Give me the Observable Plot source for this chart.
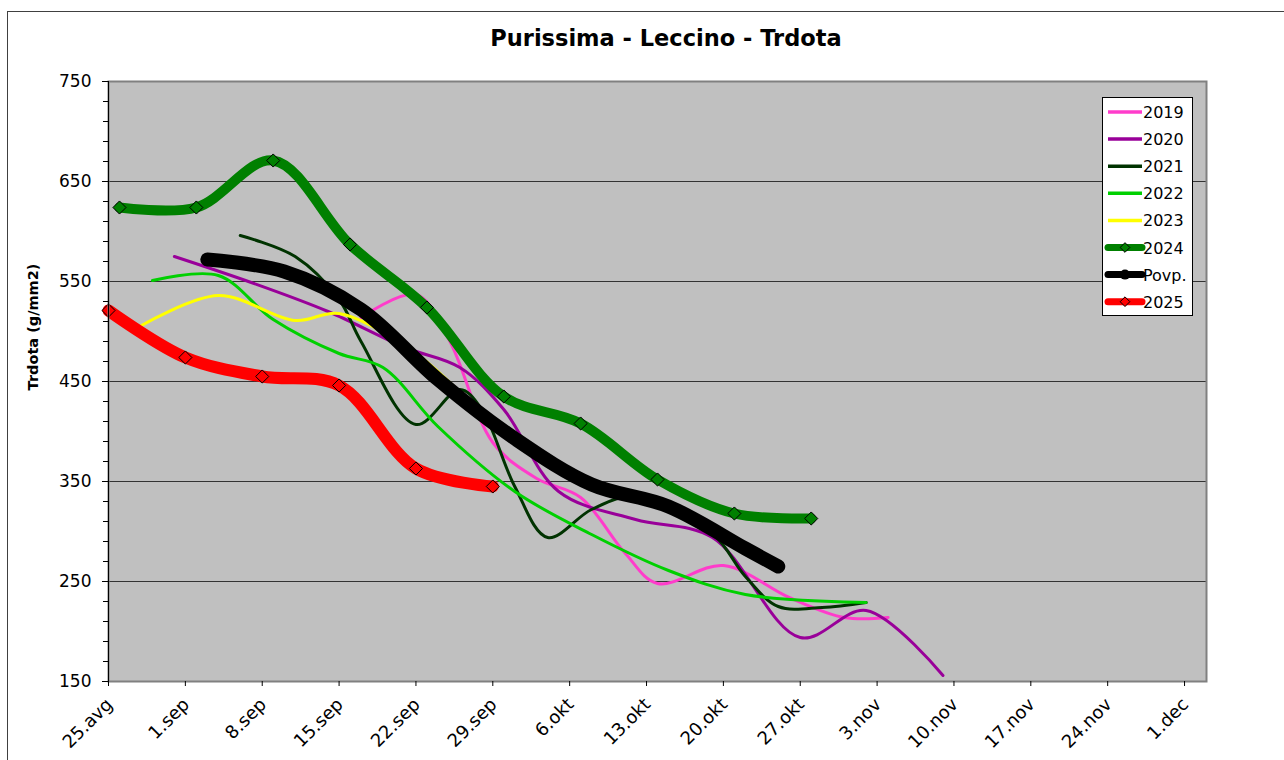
<!DOCTYPE html>
<html>
<head>
<meta charset="utf-8">
<script src="https://cdn.jsdelivr.net/npm/d3@7"></script>
<script src="https://cdn.jsdelivr.net/npm/@observablehq/plot@0.6"></script>
<style>
  body { margin: 0; background: #fff; font-family: "DejaVu Sans", sans-serif; }
  #wrap { position: relative; width: 1284px; height: 760px; overflow: hidden; background: #fff; }
  #border { position: absolute; left: 7px; top: 11px; width: 1400px; height: 900px; border: 1px solid #404040; box-sizing: border-box; }
  #chart { position: absolute; left: 0; top: 0; }
  #overlay { position: absolute; left: 0; top: 0; pointer-events: none; }
  #legend { position: absolute; left: 1102px; top: 97px; width: 91px; height: 219px; background: #fff; border: 1px solid #000; box-sizing: border-box; }
</style>
</head>
<body>
<div id="wrap">
  <div id="border"></div>
  <div id="chart"></div>
  <svg id="overlay" width="1284" height="760"></svg>
  <div id="legend"></div>
</div>
<script>
// ---------- DATA ----------
const titleText = "Purissima - Leccino - Trdota";
const yLabelText = "Trdota (g/mm2)";

const xDomain = ["2025-08-25", "2025-12-03"];
const xTickDates = ["2025-08-25","2025-09-01","2025-09-08","2025-09-15","2025-09-22","2025-09-29","2025-10-06","2025-10-13","2025-10-20","2025-10-27","2025-11-03","2025-11-10","2025-11-17","2025-11-24","2025-12-01"];
const xTickLabels = ["25.avg","1.sep","8.sep","15.sep","22.sep","29.sep","6.okt","13.okt","20.okt","27.okt","3.nov","10.nov","17.nov","24.nov","1.dec"];

const yDomain = [150, 750];
const yMajorTicks = [150, 250, 350, 450, 550, 650, 750];
const yGridTicks = [250, 350, 450, 550, 650];
const yMinorTicks = [150,170,190,210,230,250,270,290,310,330,350,370,390,410,430,450,470,490,510,530,550,570,590,610,630,650,670,690,710,730,750];

const seriesNames = ["2019", "2020", "2021", "2022", "2023", "2024", "Povp.", "2025"];
const seriesColors = ["#ff3ccb", "#990099", "#003300", "#00d000", "#ffff00", "#008000", "#000000", "#ff0000"];
const seriesWidths = [3, 3, 3, 3, 3, 10, 14, 12];
const seriesMarkers = [false, false, false, false, false, true, false, true];

const dates2019 = ["2025-09-17","2025-09-22","2025-09-25","2025-09-29","2025-10-03","2025-10-07","2025-10-11","2025-10-14","2025-10-20","2025-10-26","2025-10-31","2025-11-04"];
const values2019 = [514, 537, 492, 389, 353, 334, 279, 248, 266, 234, 214, 214];

const dates2020 = ["2025-08-31","2025-09-07","2025-09-14","2025-09-21","2025-09-26","2025-09-30","2025-10-05","2025-10-12","2025-10-19","2025-10-27","2025-11-02","2025-11-09"];
const values2020 = [575, 549, 520, 484, 464, 422, 340, 312, 294, 194, 221, 156];

const dates2021 = ["2025-09-06","2025-09-11","2025-09-15","2025-09-17","2025-09-22","2025-09-26","2025-09-28","2025-10-01","2025-10-04","2025-10-08","2025-10-12","2025-10-19","2025-10-22","2025-10-25","2025-10-29","2025-11-02"];
const values2021 = [596, 575, 532, 490, 407, 442, 422, 345, 294, 322, 335, 298, 255, 225, 224, 229];

const dates2022 = ["2025-08-29","2025-09-04","2025-09-09","2025-09-15","2025-09-19","2025-09-24","2025-10-01","2025-10-08","2025-10-15","2025-10-22","2025-11-02"];
const values2022 = [551, 556, 512, 478, 464, 405, 340, 297, 261, 237, 229];

const dates2023 = ["2025-08-28","2025-09-04","2025-09-11","2025-09-15","2025-09-22","2025-09-29","2025-10-02"];
const values2023 = [506, 536, 511, 518, 478, 408, 384];

const dates2024 = ["2025-08-26","2025-09-02","2025-09-09","2025-09-16","2025-09-23","2025-09-30","2025-10-07","2025-10-14","2025-10-21","2025-10-28"];
const values2024 = [624, 624, 671, 587, 524, 435, 408, 352, 318, 313];

const datesAvg = ["2025-09-03","2025-09-10","2025-09-17","2025-09-24","2025-10-01","2025-10-08","2025-10-15","2025-10-22","2025-10-25"];
const valuesAvg = [572, 560, 522, 452, 393, 347, 325, 283, 265];

const dates2025 = ["2025-08-25","2025-09-01","2025-09-08","2025-09-15","2025-09-22","2025-09-29"];
const values2025 = [521, 474, 455, 446, 363, 345];

// ---------- BUILD ----------
const parse = d3.utcParse("%Y-%m-%d");
const seriesDates = [dates2019, dates2020, dates2021, dates2022, dates2023, dates2024, datesAvg, dates2025];
const seriesValues = [values2019, values2020, values2021, values2022, values2023, values2024, valuesAvg, values2025];

const rows = [];
seriesNames.forEach((name, i) => {
  seriesDates[i].forEach((d, j) => rows.push({series: name, date: parse(d), value: seriesValues[i][j]}));
});

const tickRows = xTickDates.map((d, i) => ({date: parse(d), label: xTickLabels[i]}));
const font = "'DejaVu Sans', sans-serif";

const lineMarks = [];
const dotMarks = [];
seriesNames.forEach((name, i) => {
  const data = rows.filter(r => r.series === name);
  lineMarks.push(Plot.line(data, {
    x: "date", y: "value",
    stroke: seriesColors[i], strokeWidth: seriesWidths[i],
    curve: "catmull-rom", strokeLinecap: "round", strokeLinejoin: "round"
  }));
  if (seriesMarkers[i]) {
    dotMarks.push(Plot.dot(data, {
      x: "date", y: "value", symbol: "diamond2", r: 5.9,
      fill: seriesColors[i], stroke: "#000", strokeWidth: 1
    }));
  }
});

const chart = Plot.plot({
  width: 1284, height: 760,
  marginLeft: 108, marginRight: 78, marginTop: 81, marginBottom: 79,
  style: {fontFamily: font, fontSize: "17px", background: "transparent", color: "#000", overflow: "visible"},
  x: {type: "utc", domain: xDomain.map(parse), label: null},
  y: {domain: yDomain, label: null},
  marks: [
    Plot.frame({fill: "#c0c0c0"}),
    Plot.gridY(yGridTicks, {stroke: "#333333", strokeOpacity: 1, strokeWidth: 1}),
    ...lineMarks,
    ...dotMarks,
    Plot.frame({stroke: "#808080", strokeWidth: 2}),
    Plot.ruleX([parse(xDomain[0])], {stroke: "#000", strokeWidth: 1}),
    Plot.axisY(yMinorTicks, {tickSize: 5, tickFormat: () => "", label: null, stroke: "#000"}),
    Plot.axisY(yMajorTicks, {tickSize: 6, tickPadding: 11, fontSize: 17, label: null, stroke: "#000"}),
    Plot.axisX(tickRows.map(t => t.date), {tickSize: 5, tickFormat: () => "", label: null, stroke: "#000"}),
    Plot.text(tickRows, {
      x: "date", y: () => yDomain[0], text: "label",
      rotate: -45, textAnchor: "end", lineAnchor: "middle",
      dx: 1, dy: 20, fontSize: 18, fill: "#000"
    })
  ]
});
document.getElementById("chart").appendChild(chart);

// ---------- TITLE & AXIS LABEL ----------
const ov = d3.select("#overlay");
ov.append("text")
  .attr("x", 666).attr("y", 46)
  .attr("text-anchor", "middle")
  .attr("font-family", font).attr("font-weight", "bold").attr("font-size", 22.5)
  .text(titleText);
ov.append("text")
  .attr("transform", "translate(38,327) rotate(-90)")
  .attr("text-anchor", "middle")
  .attr("font-family", font).attr("font-weight", "bold").attr("font-size", 14.5)
  .text(yLabelText);

// ---------- LEGEND ----------
const lg = d3.select("#legend").append("svg").attr("width", 89).attr("height", 217);
seriesNames.forEach((name, i) => {
  const cy = 14 + i * 27.1;
  const w = seriesWidths[i] > 3 ? 7 : 3.5;
  lg.append("line").attr("x1", 5).attr("x2", 39).attr("y1", cy).attr("y2", cy)
    .attr("stroke", seriesColors[i]).attr("stroke-width", w).attr("stroke-linecap", seriesWidths[i] > 3 ? "round" : "butt");
  if (seriesMarkers[i]) {
    lg.append("path").attr("d", d3.symbol(d3.symbolDiamond2, 60)())
      .attr("transform", `translate(22,${cy})`)
      .attr("fill", seriesColors[i]).attr("stroke", "#000").attr("stroke-width", 1);
  }
  if (name === "Povp.") {
    lg.append("circle").attr("cx", 22).attr("cy", cy).attr("r", 5).attr("fill", "#000");
  }
  lg.append("text").attr("x", 40).attr("y", cy + 6)
    .attr("font-family", font).attr("font-size", 16).attr("fill", "#000")
    .text(name);
});
</script>
</body>
</html>
